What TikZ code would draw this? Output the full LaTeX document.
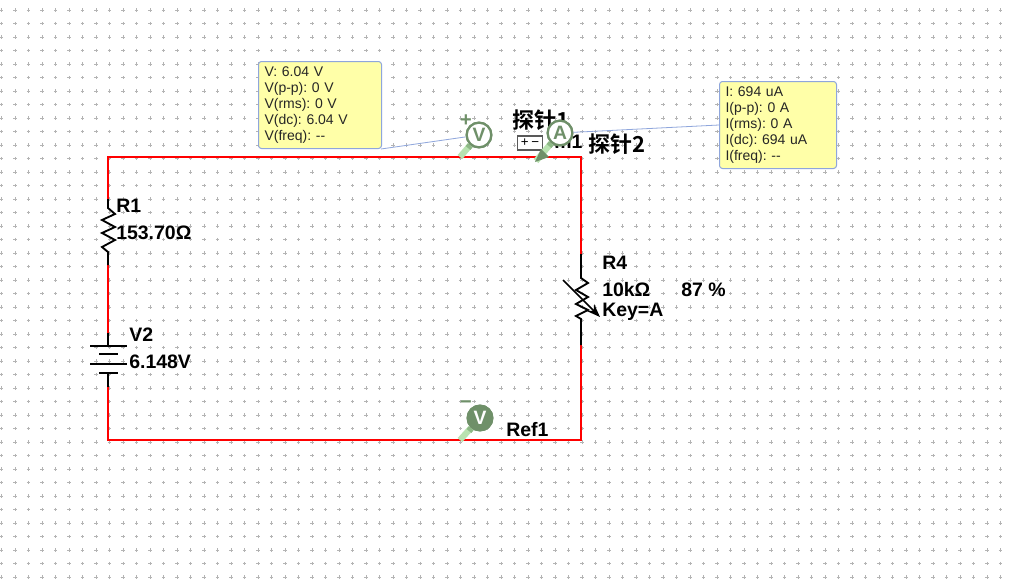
\documentclass[tikz,border=0pt]{standalone}
\usepackage{fontspec}
\usetikzlibrary{arrows.meta}
\setmainfont{Liberation Sans}
\newfontfamily\cjk{Noto Sans CJK SC}[BoldFont={* Bold}]
\definecolor{wirered}{HTML}{FF0000}
\definecolor{griddot}{HTML}{B4B4B4}
\definecolor{tipfill}{HTML}{FFFFA8}
\definecolor{tipline}{HTML}{8FA6DC}
\definecolor{probegreen}{HTML}{6F9069}
\definecolor{handlegreen}{HTML}{B8E2B0}
\definecolor{collargreen}{HTML}{8DB886}
\tikzset{
  wire/.style={draw=wirered,line width=1.9pt,line cap=rect},
  lead/.style={draw=black,line width=1.4pt},
  plate/.style={draw=black,line width=1.1pt},
  lbl/.style={inner sep=0pt,anchor=west,font=\fontsize{14.6pt}{16pt}\selectfont\bfseries},
  cjklbl/.style={inner sep=0pt,anchor=west,font=\fontsize{16.5pt}{18pt}\selectfont\cjk\bfseries},
  tip/.style={draw=tipline,fill=tipfill,line width=.75pt,rounded corners=2.2pt,minimum height=65.25pt,
    inner xsep=4.5pt,inner ysep=0pt,anchor=north west,align=left,text=black!85,
    font=\fontsize{10.5pt}{12pt}\selectfont\frenchspacing},
  leader/.style={draw=tipline,line width=.6pt},
  probehead/.style={circle,draw=probegreen,fill=white,line width=1.7pt,minimum size=18.5pt,inner sep=0pt,
    text=probegreen,font=\fontsize{14.5pt}{15pt}\selectfont\bfseries},
  probeheaddark/.style={probehead,fill=probegreen,text=white},
  handle/.style={draw=handlegreen,line width=4.6pt},
  collar/.style={draw=collargreen,line width=4.6pt},
  sign/.style={inner sep=0pt,text=probegreen,font=\fontsize{15pt}{16pt}\selectfont\bfseries},
}
\begin{document}
\begin{tikzpicture}[x=0.75pt,y=-0.75pt]
\useasboundingbox (0,0) rectangle (1010,586);
\fill[white] (0,0) rectangle (1010,586);
% grid
\foreach \i in {0,...,74}{\foreach \j in {0,...,42}{
  \pgfmathsetmacro{\gx}{1.5+13.5*\i}\pgfmathsetmacro{\gy}{10+13.5*\j}
  \draw[griddot,line width=.55pt] (\gx-1.6,\gy) -- (\gx+1.6,\gy) (\gx,\gy-1.6) -- (\gx,\gy+1.6);
}}
% corners and junctions
\coordinate (tl) at (108,157);
\coordinate (tr) at (581,157);
\coordinate (bl) at (108,440);
\coordinate (br) at (581,440);
\coordinate (r1a) at (108,199);
\coordinate (r1b) at (108,265);
\coordinate (v2a) at (108,333);
\coordinate (v2b) at (108,387);
\coordinate (r4a) at (581,254);
\coordinate (r4b) at (581,345);
% red wires
\draw[wire] (r1a) -- (tl) -- (tr) -- (r4a);
\draw[wire] (r4b) -- (br) -- (bl) -- (v2b);
\draw[wire] (r1b) -- (v2a);
% R1
\draw[lead,line join=miter] (r1a) -- (108,208) -- (115,214) -- (102,220) -- (115,227) -- (102,233) -- (115,240) -- (102,247) -- (108,252) -- (r1b);
% V2
\draw[lead] (v2a) -- (108,346);
\draw[lead] (108,373) -- (v2b);
\draw[plate] (90,346) -- (127,346);
\draw[plate] (99,354) -- (118,354);
\draw[plate] (90,364) -- (127,364);
\draw[plate] (99,373) -- (118,373);
% R4
\draw[lead] (r4a) -- (581,278) -- (588,283) -- (576,290) -- (588,297) -- (576,304) -- (588,310) -- (576,316) -- (581,319) -- (r4b);
\coordinate (keya) at (563,280);
\coordinate (keyb) at (600,317);
\draw[line width=1.1pt,-{Stealth[length=10pt,width=7.5pt]}] (keya) -- (keyb);
% labels
\node[lbl] (r1name) at (116,205.5) {R1};
\node[lbl] (r1val) at (116,232.5) {153.70Ω};
\node[lbl] (v2name) at (129,335) {V2};
\node[lbl] (v2val) at (129,361.5) {6.148V};
\node[lbl] (r4name) at (602,263) {R4};
\node[lbl] (r4val) at (602,290) {10kΩ};
\node[lbl] (r4pct) at (681,290) {87 \%};
\node[lbl] (r4key) at (602,312) {Key=A};
\node[lbl] (ref) at (506,429.5) {Ref1};
% multimeter label and probe names
\node[lbl] (xmm) at (554,142) {m1};
\node[cjklbl] (p1) at (512,120) {探针1};
\node[cjklbl] (p2) at (588,144) {探针2};
\node[draw=black!65,fill=white,line width=1pt,minimum width=19pt,minimum height=10.5pt,inner sep=0pt,font=\fontsize{10pt}{10pt}\selectfont] (xmmbox) at (530,143) {+\hspace{2pt}−};
% tooltips
\node[tip,text width=83.25pt] (vtip) at (258,61) {V: 6.04 V\\V(p-p): 0 V\\V(rms): 0 V\\V(dc): 6.04 V\\V(freq): {-}{-}};
\node[tip,text width=78.75pt] (itip) at (719,81) {I: 694 uA\\I(p-p): 0 A\\I(rms): 0 A\\I(dc): 694 uA\\I(freq): {-}{-}};
% probes
\node[probehead] (pv) at (479,135) {V};
\node[probehead] (pa) at (560,133) {A};
\node[probeheaddark] (pref) at (480,418) {V};
\coordinate (pvtip) at (460,157);
\coordinate (patip) at (536,161);
\coordinate (preftip) at (460,440);
\coordinate (pvc) at (468,148);
\coordinate (pac) at (549,146);
\coordinate (prefc) at (469,431);
\draw[handle] (pvtip) -- (pv);
\draw[handle] (patip) -- (pa);
\draw[handle] (preftip) -- (pref);
\draw[collar] (pvc) -- (pv);
\draw[collar] (pac) -- (pa);
\draw[collar] (prefc) -- (pref);
\node[probehead] at (pv) {V};
\node[probehead] at (pa) {A};
\node[probeheaddark] at (pref) {V};
\fill[probegreen] (535,162) -- (549,157) -- (541,149) -- cycle;
\node[sign] (pvplus) at (466,121) {+};
\node[sign] (prefminus) at (466,405) {−};
\draw[leader] (381,149) -- (pv);
\draw[leader] (pa) -- (itip.west);
\end{tikzpicture}
\end{document}
